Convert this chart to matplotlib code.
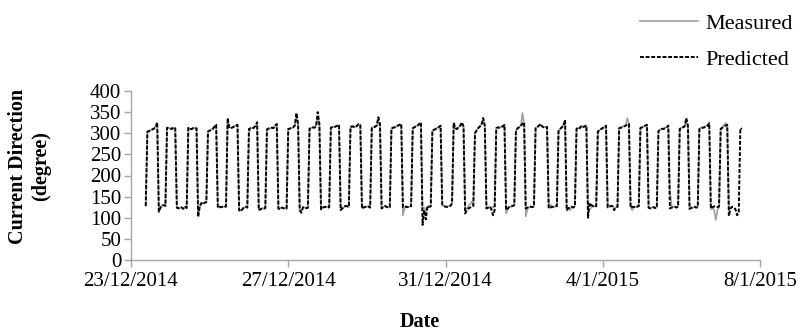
import numpy as np
import pandas as pd
import matplotlib
matplotlib.use("Agg")
import matplotlib.pyplot as plt
import matplotlib.dates as mdates

# hourly current direction (degree), starting 23/12/2014 09:00
predicted = [
    128,
    304, 305, 307, 309, 311, 314, 326, 114, 124, 129, 130, 128,
    313, 312, 311, 310, 314, 312, 124, 122, 125, 124, 121, 126, 123,
    313, 310, 310, 312, 311, 312, 102, 128, 135, 132, 136, 137,
    304, 306, 308, 310, 316, 320, 124, 126, 125, 126, 125, 127,
    336, 313, 312, 314, 316, 318, 320, 118, 115, 120, 125, 126, 124,
    310, 312, 311, 313, 318, 326, 118, 120, 122, 121, 123,
    309, 311, 312, 313, 312, 318, 322, 122, 120, 124, 123, 121, 122,
    310, 311, 313, 314, 318, 348, 322, 118, 112, 125, 124, 123, 124,
    311, 312, 314, 313, 316, 350, 322, 120, 124, 125, 126, 124, 125,
    313, 315, 314, 316, 318, 320, 118, 122, 126, 128, 127, 126,
    314, 316, 315, 314, 318, 322, 320, 122, 124, 126, 125, 127, 124,
    312, 314, 315, 318, 338, 322, 122, 125, 128, 126, 124, 125,
    310, 313, 314, 316, 318, 320, 322, 125, 127, 126, 125, 128, 127,
    312, 314, 316, 318, 322, 326, 83, 118, 96, 128, 126, 127,
    306, 308, 310, 312, 315, 318, 132, 128, 126, 126, 127, 128, 135,
    325, 312, 310, 314, 318, 326, 316, 110, 118, 122, 124, 126, 128,
    300, 306, 312, 316, 320, 336, 318, 122, 124, 126, 120, 106, 118,
    312, 314, 313, 315, 316, 320, 118, 122, 126, 127, 128, 130,
    306, 312, 314, 318, 322, 326, 122, 124, 126, 126, 125, 127,
    312, 314, 318, 322, 316, 314, 313, 315, 122, 124, 126, 126, 127, 128,
    306, 310, 314, 318, 332, 118, 122, 125, 126, 124, 128,
    310, 314, 312, 318, 315, 316, 318, 100, 135, 130, 128, 126, 127,
    304, 306, 310, 312, 316, 318, 125, 126, 128, 127, 118, 124, 126,
    312, 313, 314, 316, 318, 320, 322, 124, 126, 125, 127, 126, 128,
    312, 314, 316, 318, 320, 124, 122, 124, 125, 123, 124,
    305, 308, 310, 310, 312, 314, 318, 122, 124, 125, 126, 124, 127,
    310, 312, 314, 316, 336, 318, 121, 123, 125, 126, 124, 125,
    310, 312, 313, 314, 316, 318, 324, 122, 125, 127, 126, 125, 127,
    310, 313, 316, 318, 320, 104, 122, 126, 125, 120, 106, 110,
    312, 310,
]

measured = [
    128,
    302, 305, 308, 309, 312, 316, 322, 118, 126, 128, 130, 129,
    311, 313, 311, 312, 313, 311, 123, 124, 124, 125, 122, 125, 124,
    311, 311, 310, 313, 312, 311, 106, 126, 133, 134, 135, 137,
    303, 307, 309, 312, 317, 318, 125, 124, 126, 125, 127, 126,
    328, 314, 313, 313, 317, 318, 319, 120, 117, 121, 124, 125, 126,
    300, 311, 312, 314, 317, 322, 120, 121, 121, 122, 124,
    308, 312, 311, 314, 313, 317, 320, 121, 122, 123, 124, 122, 121,
    309, 312, 312, 315, 320, 338, 320, 120, 116, 124, 125, 122, 123,
    310, 313, 313, 314, 318, 340, 320, 121, 123, 126, 125, 125, 124,
    312, 314, 315, 317, 317, 319, 120, 121, 125, 127, 128, 125,
    316, 318, 316, 315, 317, 320, 318, 123, 125, 125, 126, 126, 125,
    313, 315, 316, 320, 324, 318, 123, 126, 127, 125, 125, 124,
    312, 314, 315, 315, 319, 321, 320, 106, 122, 127, 126, 127, 128,
    311, 315, 317, 319, 320, 318, 120, 124, 116, 126, 127, 126,
    307, 309, 311, 313, 314, 317, 130, 127, 127, 125, 128, 129, 133,
    318, 313, 311, 315, 317, 322, 315, 118, 122, 128, 132, 138, 130,
    303, 308, 313, 317, 321, 330, 317, 122, 124, 126, 125, 124, 128,
    311, 313, 314, 316, 317, 319, 110, 120, 125, 126, 128, 129,
    305, 311, 315, 319, 348, 320, 103, 120, 125, 127, 126, 126,
    311, 315, 318, 320, 317, 315, 314, 314, 128, 132, 124, 125, 127, 127,
    304, 311, 315, 320, 326, 116, 124, 118, 127, 125, 127,
    311, 313, 313, 317, 316, 317, 319, 118, 120, 124, 127, 127, 128,
    305, 307, 311, 313, 315, 317, 124, 127, 127, 128, 122, 125, 125,
    311, 314, 315, 317, 319, 336, 320, 125, 118, 126, 126, 127, 127,
    313, 315, 315, 319, 318, 123, 123, 125, 124, 124, 125,
    304, 309, 311, 311, 313, 315, 316, 165, 128, 126, 125, 125, 126,
    311, 313, 315, 317, 326, 317, 122, 124, 124, 125, 125, 126,
    311, 313, 314, 315, 317, 319, 320, 120, 124, 118, 95, 118, 125,
    310, 314, 320, 324, 318, 118,
]

start_time = "2014-12-23 09:00"
tick_dates = ["2014-12-23", "2014-12-27", "2014-12-31", "2015-01-04", "2015-01-08"]
tick_labels = ["23/12/2014", "27/12/2014", "31/12/2014", "4/1/2015", "8/1/2015"]
y_ticks = [0, 50, 100, 150, 200, 250, 300, 350, 400]

plt.rcParams["font.family"] = ["Liberation Serif", "DejaVu Serif"]

times_pred = pd.date_range(start_time, periods=len(predicted), freq="h")
times_meas = pd.date_range(start_time, periods=len(measured), freq="h")
x_pred = mdates.date2num(times_pred.to_pydatetime())
x_meas = mdates.date2num(times_meas.to_pydatetime())
x_ticks = mdates.date2num(pd.to_datetime(tick_dates).to_pydatetime())

fig = plt.figure(figsize=(8.02, 3.34), dpi=100)
ax = fig.add_axes([131 / 802, 74 / 334, 629 / 802, 169 / 334])

ax.plot(x_meas, measured, color="#a0a0a0", linewidth=1.2, label="Measured")
ax.plot(x_pred, predicted, color="black", linewidth=1.4,
        linestyle=(0, (2.0, 0.9)), label="Predicted")

ax.set_xlim(x_ticks[0], x_ticks[-1])
ax.set_ylim(0, 400)
ax.set_xticks(x_ticks)
ax.set_xticklabels(tick_labels)
ax.set_yticks(y_ticks)

for side in ("top", "right"):
    ax.spines[side].set_visible(False)
for side in ("left", "bottom"):
    ax.spines[side].set_color("#a6a6a6")
    ax.spines[side].set_linewidth(1.0)
ax.tick_params(axis="both", colors="#a6a6a6", labelcolor="black",
               labelsize=15, length=5, width=1.0, direction="out")
ax.tick_params(axis="y", pad=2)
ax.tick_params(axis="x", pad=4)

fig.text(29.5 / 802, 1 - 166 / 334, "Current Direction\n(degree)", rotation=90,
         ha="center", va="center", fontsize=14.5, fontweight="bold",
         linespacing=1.2, multialignment="center")
fig.text(420 / 802, 1 - 322 / 334, "Date", ha="center", va="center",
         fontsize=14.5, fontweight="bold")

fig.legend(loc="upper left", bbox_to_anchor=(640 / 802, 1 - 13 / 334),
           frameon=False, fontsize=16, handlelength=2.6, handletextpad=0.32,
           labelspacing=0.72, borderpad=0, borderaxespad=0)

fig.savefig("out.png", dpi=100)
